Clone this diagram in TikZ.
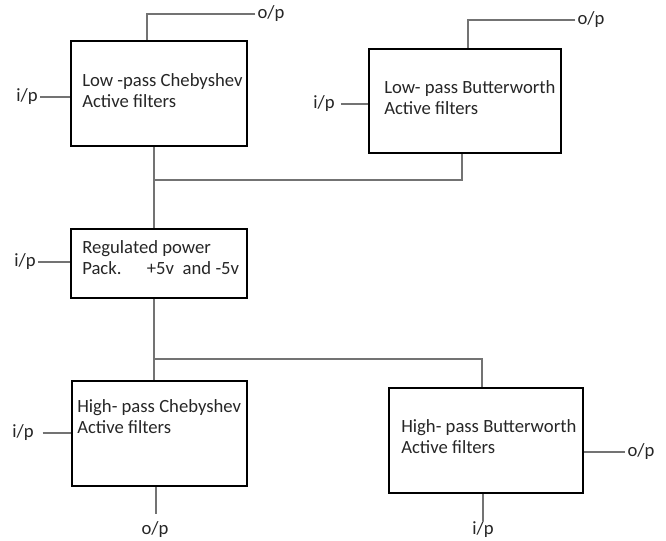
\documentclass[tikz,border=0pt]{standalone}
\usepackage{fontspec}
\setmainfont{Carlito}
\usetikzlibrary{fit}
\begin{document}
\begin{tikzpicture}[x=0.75pt,y=-0.75pt,
  box/.style={draw=black,line width=1.5pt,inner sep=0pt,fill=none},
  wire/.style={draw=black!55,line width=0.9pt},
  txt/.style={inner sep=0pt,align=left,anchor=west,text=black!85,font=\fontsize{14}{15.75}\selectfont},
  lbl/.style={inner sep=1.5pt,text=black!85,font=\fontsize{14}{15.75}\selectfont}]
\useasboundingbox (0,0) rectangle (666,540);
% boxes
\node[box,fit={(71,41)(247,146)}] (lpc) {};
\node[box,fit={(369,49)(561,153)}] (lpb) {};
\node[box,fit={(71,229)(247,298)}] (rpp) {};
\node[box,fit={(72,381)(247,486)}] (hpc) {};
\node[box,fit={(389,388)(583,493)}] (hpb) {};
% box texts
\node[txt] (tlpc) at (82,91) {Low -pass Chebyshev\\Active filters};
\node[txt] (tlpb) at (384,97.5) {Low- pass Butterworth\\Active filters};
\node[txt] (trpp) at (82,257.5) {Regulated power\\Pack.\hspace{19pt}+5v\hspace{6.5pt}and -5v};
\node[txt] (thpc) at (77,416.5) {High- pass Chebyshev\\Active filters};
\node[txt] (thpb) at (401,436.5) {High- pass Butterworth\\Active filters};
% labels
\node[lbl] (op1) at (271,14) {o/p};
\node[lbl] (op2) at (591,20) {o/p};
\node[lbl] (ip1) at (27,97) {i/p};
\node[lbl] (ip2) at (324,104) {i/p};
\node[lbl] (ip3) at (25,262) {i/p};
\node[lbl] (ip4) at (23,433) {i/p};
\node[lbl] (op4) at (155,530) {o/p};
\node[lbl] (op5) at (641,452) {o/p};
\node[lbl] (ip5) at (483,530) {i/p};
% junctions
\coordinate (j1) at (154,180);
\coordinate (j2) at (154,359);
% wires
\draw[wire] (op1.west) -| ([xshift=-9pt]lpc.north);
\draw[wire] (op2.west) -| ([xshift=2.25pt]lpb.north);
\draw[wire] (ip1.east) -- (ip1.east -| lpc.west);
\draw[wire] ([xshift=3pt]ip2.east) -- (ip2.east -| lpb.west);
\draw[wire] (ip3.east) -- (ip3.east -| rpp.west);
\draw[wire] ([xshift=5pt]ip4.east) -- (ip4.east -| hpc.west);
\draw[wire] (lpc.south -| j1) -- (rpp.north -| j1);
\draw[wire] (j1) -| ([xshift=-2.25pt]lpb.south);
\draw[wire] (rpp.south -| j2) -- (hpc.north -| j2);
\draw[wire] (j2) -| ([xshift=-3pt]hpb.north);
\draw[wire] ([xshift=-2.6pt]hpc.south) -- ++(0,27) coordinate (op4end);
\draw[wire] ([xshift=-2.25pt]hpb.south) -- ++(0,27) coordinate (ip5end);
\draw[wire] (op5.west -| hpb.east) -- (op5.west);
\end{tikzpicture}
\end{document}
